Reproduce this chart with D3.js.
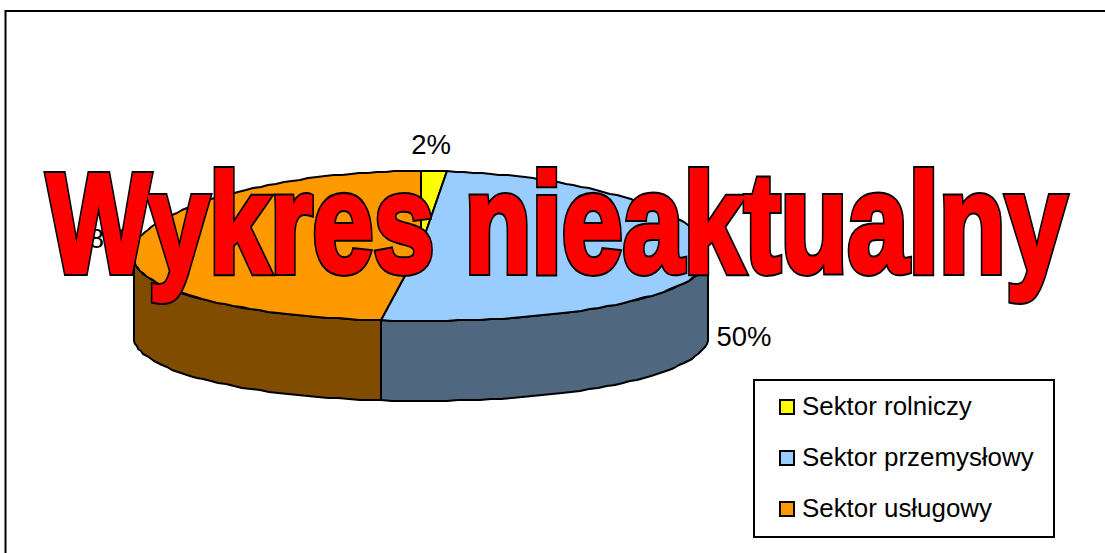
<!DOCTYPE html>
<html>
<head>
<meta charset="utf-8">
<script src="https://cdn.jsdelivr.net/npm/d3@7"></script>
<style>
  html, body { margin: 0; background: #fff; }
  svg { display: block; }
  text { font-family: "Liberation Sans", Arial, sans-serif; fill: #000; }
</style>
</head>
<body>
<div class="Canvas"></div>
<script>
const categories = ['Sektor rolniczy', 'Sektor przemysłowy', 'Sektor usługowy'];
const values = [1.6, 50.4, 48];
const topColors = ['#ffff00', '#99ccff', '#ff9900'];
const sideColors = ['#808000', '#4f6880', '#7f4c00'];
const stampText = 'Wykres nieaktualny';

const width = 1105;
const height = 553;
const cx = 421;
const cy = 246;
const rx = 287;
const ry = 75;
const depth = 80;
const perspective = 0.11;

const svg = d3.select('.Canvas').append('svg').attr('width', width).attr('height', height);

// chart frame, cropped on the right and at the bottom
svg.append('path')
  .attr('d', d3.line()([[5.5, height], [5.5, 11], [width, 11]]))
  .attr('fill', 'none').attr('stroke', '#000').attr('stroke-width', 2);

const xScale = d3.scaleLinear().domain([-1, 1]).range([cx - rx, cx + rx]).clamp(true);
const yScale = d3.scaleLinear().domain([-1, 1]).range([cy - ry, cy + ry]);

const pie = d3.pie().sort(null);
const slices = pie(values);

// far side of the disc is a bit narrower than the near side.
// the original outline is pixel stepped, so the points are rounded
const rimPoint = (a, dy) => {
  const k = 1 - perspective * Math.cos(a);
  return [Math.round(xScale(Math.sin(a) * k)), Math.round(yScale(-Math.cos(a))) + dy];
};
const rim = (a0, a1, dy) => {
  const n = Math.max(2, Math.ceil((a1 - a0) / 0.035));
  return d3.range(n + 1).map((i) => rimPoint(a0 + ((a1 - a0) * i) / n, dy));
};
const line = d3.line();
const centre = [xScale(0), yScale(0)];

// side wall, only the front half of the rim shows
slices.forEach((d, i) => {
  const a0 = Math.max(d.startAngle, Math.PI / 2);
  const a1 = Math.min(d.endAngle, (3 * Math.PI) / 2);
  if (a1 <= a0) return;
  const front = rim(a0, a1, 0);
  const back = rim(a0, a1, depth).reverse();
  svg.append('path')
    .attr('d', line(front.concat(back)) + 'Z')
    .attr('fill', sideColors[i])
    .attr('stroke', '#000').attr('stroke-width', 2).attr('stroke-linejoin', 'round');
});

slices.forEach((d, i) => {
  const pts = [centre].concat(rim(d.startAngle, d.endAngle, 0));
  svg.append('path')
    .attr('d', line(pts) + 'Z')
    .attr('fill', topColors[i])
    .attr('stroke', '#000').attr('stroke-width', 2).attr('stroke-linejoin', 'round');
});

const labelPos = [[431, 154], [744, 346], [101, 248]];
const labelFmt = (v) => Math.round(v) + '%';
svg.selectAll('text.label')
  .data(values)
  .enter()
  .append('text')
  .attr('class', 'label')
  .attr('x', (d, i) => labelPos[i][0])
  .attr('y', (d, i) => labelPos[i][1])
  .attr('text-anchor', 'middle')
  .attr('font-size', '27.5px')
  .text(labelFmt);

// legend
svg.append('rect')
  .attr('x', 754).attr('y', 380)
  .attr('width', 300).attr('height', 157)
  .attr('fill', '#fff').attr('stroke', '#000').attr('stroke-width', 2);

const legendY = d3.scalePoint().domain(categories).range([407, 509]);
categories.forEach((c, i) => {
  svg.append('rect')
    .attr('x', 780).attr('y', legendY(c) - 7)
    .attr('width', 14).attr('height', 14)
    .attr('fill', topColors[i])
    .attr('stroke', '#000').attr('stroke-width', 2);
  svg.append('text')
    .attr('x', 802).attr('y', legendY(c) + 8)
    .attr('font-size', '25.9px')
    .text(c);
});

// WordArt stamp: glyphs fattened with strokes, then stretched to the box
// they cover in the original. Black outline under a red stroke and fill.
const stampLayers = [
  { stroke: '#000', strokeWidth: 7 },
  { stroke: '#f00', strokeWidth: 3.4 },
];
const stamps = stampLayers.map((l) =>
  svg.append('text')
    .attr('font-size', '100px')
    .attr('font-weight', 'bold')
    .attr('stroke', l.stroke)
    .attr('stroke-width', l.strokeWidth)
    .attr('stroke-linejoin', 'miter')
    .style('fill', '#f00')
    .style('vector-effect', 'non-scaling-stroke')
    .style('paint-order', 'stroke')
    .text(stampText)
);
const box = stamps[0].node().getBBox();
const sx = (1067 - 47) / box.width;
const sy = 1.41;
stamps.forEach((s) => s.attr('transform', `translate(${47 - box.x * sx},272) scale(${sx},${sy})`));
</script>
</body>
</html>
